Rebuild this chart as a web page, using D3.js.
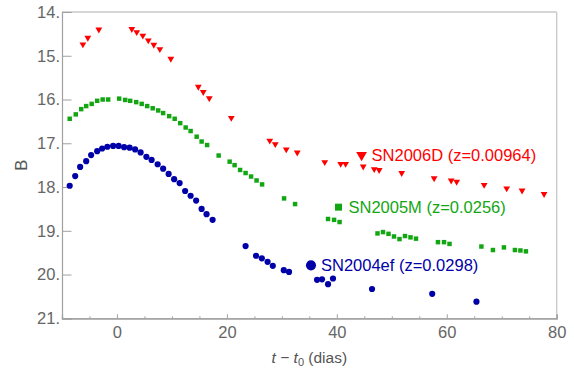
<!DOCTYPE html>
<html><head><meta charset="utf-8">
<script src="https://cdn.jsdelivr.net/npm/d3@7"></script>
<style>body{margin:0;background:#fff}svg{display:block}text{font-family:"Liberation Sans",Arial,sans-serif}</style>
</head><body><svg id="c" width="574" height="369"></svg>
<script>
const redX=[-6.2,-5.3,-3.3,2.7,3.6,4.7,5.7,6.7,7.8,9.8,14.8,15.7,16.8,20.8,27.8,28.8,30.8,32.8,37.8,40.7,41.6,44.8,46.8,47.7,51.8,57.7,60.8,61.8,66.8,70.9,73.7,77.7];
const redY=[14.74,14.59,14.40,14.39,14.46,14.54,14.65,14.75,14.85,15.07,15.71,15.83,15.97,16.42,16.94,17.02,17.14,17.21,17.43,17.47,17.47,17.53,17.59,17.61,17.68,17.80,17.85,17.88,17.95,18.03,18.08,18.16];
const greenX=[-8.6,-7.5,-6.5,-5.6,-4.6,-3.6,-2.6,-1.6,0.4,1.5,2.4,3.5,4.5,5.5,6.5,7.5,8.4,9.5,10.5,11.5,12.5,13.4,14.5,15.4,16.4,18.5,20.5,21.4,22.4,23.4,24.4,25.4,26.4,30.4,32.4,38.4,39.5,40.5,47.4,48.4,49.4,50.4,51.4,52.4,53.4,54.4,58.4,59.5,60.5,66.3,68.4,70.4,72.4,73.4,74.4];
const greenY=[16.44,16.34,16.22,16.15,16.10,16.03,16.0,16.0,15.98,16.01,16.03,16.06,16.10,16.15,16.20,16.25,16.31,16.38,16.44,16.54,16.64,16.72,16.85,16.96,17.04,17.28,17.42,17.50,17.61,17.68,17.76,17.85,17.94,18.26,18.39,18.73,18.75,18.80,19.06,19.03,19.07,19.13,19.19,19.12,19.15,19.18,19.26,19.26,19.30,19.36,19.44,19.38,19.44,19.45,19.47];
const blueX=[-8.6,-7.6,-6.7,-5.6,-4.7,-3.6,-2.7,-1.75,-0.7,0.3,1.3,2.3,3.3,4.3,5.35,6.3,7.4,8.4,9.4,10.4,11.4,12.4,13.4,14.4,15.4,16.3,17.4,23.4,25.3,26.35,27.4,28.35,30.35,31.3,36.4,37.3,38.4,39.3,46.4,57.35,65.4];
const blueY=[17.97,17.75,17.54,17.41,17.27,17.18,17.12,17.08,17.06,17.06,17.09,17.10,17.14,17.21,17.31,17.38,17.48,17.58,17.70,17.82,17.91,18.09,18.20,18.31,18.50,18.62,18.75,19.35,19.57,19.63,19.71,19.80,19.90,19.94,20.12,20.11,20.22,20.09,20.33,20.44,20.62];
const seriesNames=["SN2006D (z=0.00964)","SN2005M (z=0.0256)","SN2004ef (z=0.0298)"];
const labelAtX=[44.5,40.3,35.3];
const labelAtY=[17.27,18.46,19.79];
const xTicks=[0,20,40,60,80];
const xMinorTicks=[-5,5,10,15,25,30,35,45,50,55,65,70,75];
const yTicks=[14,15,16,17,18,19,20,21];

const svg=d3.select("#c");
const L=62,R=556.7,T=12,B=318.3;
const x=d3.scaleLinear().domain([-10,80]).range([L,R]);
const y=d3.scaleLinear().domain([14,21]).range([T,B]);

// frame top/right
svg.append("line").attr("x1",L).attr("x2",R).attr("y1",T).attr("y2",T).attr("stroke","#c8c8c8").attr("stroke-width",1.3);
svg.append("line").attr("x1",R).attr("x2",R).attr("y1",T).attr("y2",B).attr("stroke","#c8c8c8").attr("stroke-width",1.3);

const tickCol="#666";
const fs=16.5;
// bottom axis
const gx=svg.append("g").attr("transform",`translate(0,${B})`)
  .call(d3.axisBottom(x).tickValues(xTicks).tickSize(-4).tickPadding(8).tickFormat(d3.format("d")));
gx.append("g").call(d3.axisBottom(x).tickValues(xMinorTicks).tickSize(-2).tickFormat(""));
gx.selectAll(".domain").attr("stroke","#a0a0a0").attr("stroke-width",1.2);
gx.selectAll(".tick line").attr("stroke","#a0a0a0");
gx.selectAll("text").attr("fill",tickCol).attr("font-size",fs).attr("font-family","Liberation Sans, Arial, sans-serif");

// left axis
const gy=svg.append("g").attr("transform",`translate(${L},0)`)
  .call(d3.axisLeft(y).tickValues(yTicks).tickSize(-9.5).tickPadding(2).tickFormat(d=>d+"."));
gy.selectAll(".domain").attr("stroke","#a0a0a0").attr("stroke-width",1.2);
gy.selectAll(".tick line").attr("stroke","#a0a0a0");
gy.selectAll("text").attr("fill",tickCol).attr("font-size",fs).attr("font-family","Liberation Sans, Arial, sans-serif");

// axis labels
const xl=svg.append("text").attr("x",(L+R)/2).attr("y",363).attr("text-anchor","middle").attr("fill","#555").attr("font-size",15.5);
xl.append("tspan").attr("font-style","italic").text("t");
xl.append("tspan").text(" \u2212 ");
xl.append("tspan").attr("font-style","italic").text("t");
xl.append("tspan").attr("font-size",11).attr("dy",3).text("0");
xl.append("tspan").attr("dy",-3).text(" (dias)");
svg.append("text").attr("transform",`translate(27,${(T+B)/2}) rotate(-90)`).attr("text-anchor","middle").attr("fill","#555").attr("font-size",16.5).text("B");

const colors=["#ff0000","#13a613","#0000a8"];
const symTypes=[d3.symbolTriangle,d3.symbolSquare,d3.symbolCircle];
const sizes=[20,20,30];
const legSizes=[50,49,80];
const rot=[180,0,0];
const sets=[[redX,redY],[greenX,greenY],[blueX,blueY]];

sets.forEach(([xs,ys],k)=>{
  const g=svg.append("g");
  g.selectAll("path").data(xs.map((v,i)=>[v,ys[i]])).join("path")
    .attr("d",d3.symbol().type(symTypes[k]).size(sizes[k]))
    .attr("transform",d=>`translate(${x(d[0])},${y(d[1])}) rotate(${rot[k]})`)
    .attr("fill",colors[k]);
  const lx=x(labelAtX[k]),ly=y(labelAtY[k]);
  svg.append("path").attr("d",d3.symbol().type(symTypes[k]).size(legSizes[k])())
    .attr("transform",`translate(${lx},${ly}) rotate(${rot[k]})`).attr("fill",colors[k]);
  svg.append("text").attr("x",lx+10).attr("y",ly+6).attr("fill",colors[k]).attr("font-size",16.5).text(seriesNames[k]);
});
</script></body></html>
